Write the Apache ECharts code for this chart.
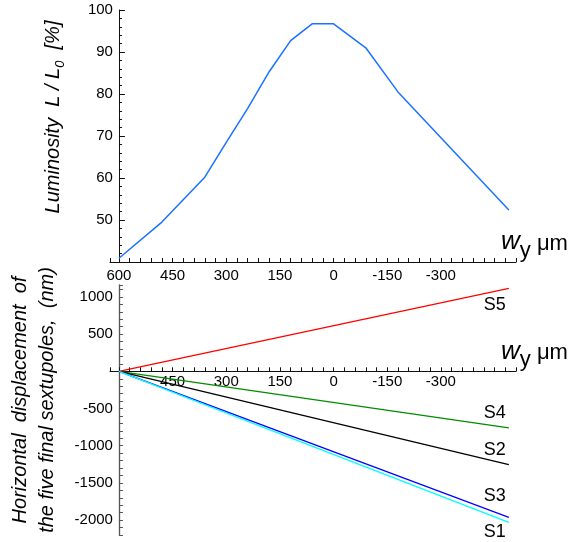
<!DOCTYPE html>
<html><head><meta charset="utf-8">
<script src="https://cdn.jsdelivr.net/npm/echarts@6/dist/echarts.min.js"></script>
<style>html,body{margin:0;padding:0;background:#fff}#c{width:571px;height:542px}</style>
</head><body><div id="c"></div>
<script>
// ---- data ----
const wy = [600, 480, 360, 300, 240, 180, 120, 60, 0, -90, -180, -490];
const luminosity = [40.9, 49.5, 60.2, 68.5, 76.6, 85.3, 92.7, 96.7, 96.7, 91.0, 80.5, 52.4];
const dispX = [600, -490];
const S1 = [0, -2031];
const S2 = [0, -1253];
const S3 = [0, -1963];
const S4 = [0, -759];
const S5 = [0, 1114];
const topXLabels = [600, 450, 300, 150, 0, -150, -300];
const bottomXLabels = [450, 300, 150, 0, -150, -300];
const dispYLabels = [-2000, -1500, -1000, -500, 500, 1000];

// ---- layout ----
const FONT = '"Liberation Sans", Arial, Helvetica, sans-serif';
const GL = 110, GW = 406;
const XMIN = -510, XMAX = 625;
const pxPerUnit = GW / (XMAX - XMIN);
const yOff = -(XMAX - 600) * pxPerUnit;
const G2TOP = 285, G2H = 250, DMIN = -2200, DMAX = 1160;
const zeroOff = -G2H * (0 - DMIN) / (DMAX - DMIN);

const nameRich = {
  w: {fontSize: 26, fontStyle: 'italic', fontFamily: FONT, color: '#000', verticalAlign: 'bottom', padding: [0, 0, 7, 0]},
  y: {fontSize: 22, fontFamily: FONT, color: '#000', verticalAlign: 'bottom'},
  u: {fontSize: 22, fontFamily: FONT, color: '#000', verticalAlign: 'bottom', padding: [0, 0, 7, 0]}
};

function xAxisCfg(gridIndex, labels, margin, offset) {
  return {
    type: 'value', gridIndex, inverse: true, min: XMIN, max: XMAX, interval: 30,
    position: 'bottom', offset,
    splitLine: {show: false},
    axisLine: {onZero: false, lineStyle: {color: '#111', width: 1}},
    axisTick: {inside: true, length: 4, lineStyle: {color: '#111'}},
    axisLabel: {margin, color: '#000', fontSize: 15, fontFamily: FONT,
      formatter: v => labels.includes(v) ? String(v) : ''},
    name: '{w|w}{y|y}{u| μm}', nameLocation: 'start', nameGap: -15,
    nameTextStyle: {align: 'left', verticalAlign: 'bottom', padding: [0, 0, 0, 0], rich: nameRich}
  };
}

const labelStyle = {show: true, fontSize: 18, fontFamily: FONT, color: '#000'};
function dispSeries(name, arr, color, offset) {
  return {
    type: 'line', name, xAxisIndex: 1, yAxisIndex: 1, symbol: 'none',
    lineStyle: {color, width: 1.3}, animation: false,
    data: dispX.map((x, i) => [x, arr[i]]),
    markPoint: {symbol: 'circle', symbolSize: 0, silent: true,
      label: Object.assign({}, labelStyle, {formatter: name, offset}),
      data: [{coord: [dispX[dispX.length - 1], arr[arr.length - 1]]}]}
  };
}

const chart = echarts.init(document.getElementById('c'));
chart.setOption({
  animation: false,
  backgroundColor: '#fff',
  grid: [
    {left: GL, top: 10, width: GW, height: 252, outerBoundsMode: 'none', containLabel: false},
    {left: GL, top: G2TOP, width: GW, height: G2H, outerBoundsMode: 'none', containLabel: false}
  ],
  xAxis: [
    xAxisCfg(0, topXLabels, 6, 0),
    xAxisCfg(1, bottomXLabels, 3, zeroOff)
  ],
  yAxis: [
    {type: 'value', gridIndex: 0, min: 40, max: 100, interval: 10, position: 'left', offset: yOff,
     axisLine: {show: true, onZero: false, lineStyle: {color: '#111'}},
     axisTick: {show: true, inside: true, length: 6, lineStyle: {color: '#111'}},
     minorTick: {show: true, splitNumber: 5, length: 3, lineStyle: {color: '#111'}},
     splitLine: {show: false},
     axisLabel: {showMinLabel: false, margin: 6, color: '#000', fontSize: 15, fontFamily: FONT},
     name: '{a|Luminosity  L / L}{s|0}{a|  [%]}', nameLocation: 'middle', nameRotate: 90, nameGap: 52,
     nameTextStyle: {padding: [0, 0, 0, 38], rich: {
       a: {fontSize: 20, fontStyle: 'italic', fontFamily: FONT, color: '#000', verticalAlign: 'bottom', padding: [0, 0, 4, 0]},
       s: {fontSize: 13, fontStyle: 'italic', fontFamily: FONT, color: '#000', verticalAlign: 'bottom'}
     }}},
    {type: 'value', gridIndex: 1, min: DMIN, max: DMAX, interval: 100, position: 'left', offset: yOff,
     axisLine: {show: true, onZero: false, lineStyle: {color: '#555', width: 1.3}},
     axisTick: {show: true, inside: true, length: 4, lineStyle: {color: '#555'}},
     splitLine: {show: false},
     axisLabel: {margin: 6, color: '#000', fontSize: 15, fontFamily: FONT,
       formatter: v => dispYLabels.includes(v) ? String(v) : ''},
     name: 'Horizontal  displacement  of\nthe five final sextupoles,  (nm)',
     nameLocation: 'middle', nameRotate: 90, nameGap: 58,
     nameTextStyle: {fontSize: 20, fontStyle: 'italic', fontFamily: FONT, color: '#000', lineHeight: 27, padding: [0, 0, 0, 20]}}
  ],
  series: [
    {type: 'line', name: 'Luminosity', xAxisIndex: 0, yAxisIndex: 0, symbol: 'none',
     lineStyle: {color: '#1a73ff', width: 1.5},
     data: wy.map((x, i) => [x, luminosity[i]])},
    dispSeries('S5', S5, '#ff0000', [-14, 17]),
    dispSeries('S4', S4, '#008c00', [-14, -15]),
    dispSeries('S2', S2, '#000000', [-14, -15]),
    dispSeries('S3', S3, '#0000ff', [-14, -21]),
    dispSeries('S1', S1, '#00ffff', [-14, 10])
  ]
});
</script>
</body></html>
